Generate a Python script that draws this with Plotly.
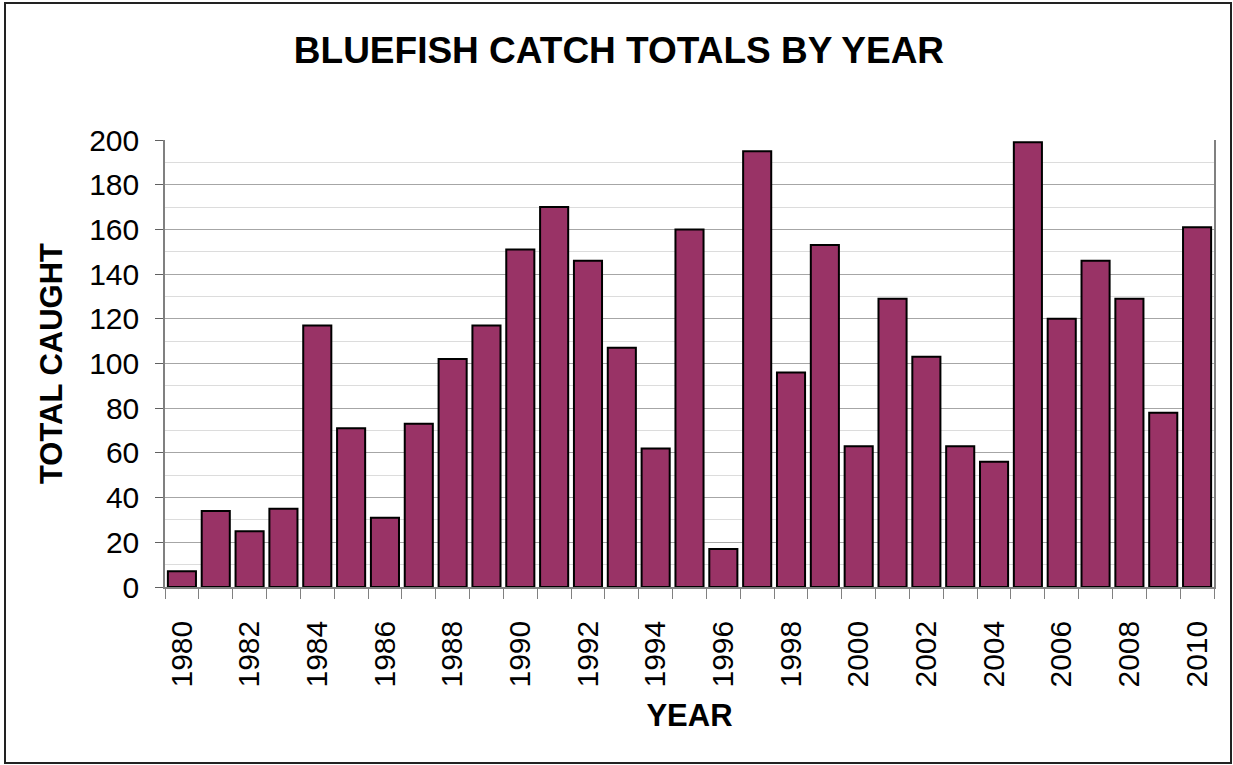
import plotly.graph_objects as go

# Bluefish catch totals, one bar per year
years = list(range(1980, 2011))
caught = [7, 34, 25, 35, 117, 71, 31, 73, 102, 117,
          151, 170, 146, 107, 62, 160, 17, 195, 96, 153,
          63, 129, 103, 63, 56, 199, 120, 146, 129, 78, 161]

label_years = list(range(1980, 2011, 2))
y_ticks = list(range(0, 201, 20))

BAR = "#993366"
FONT = "Liberation Sans, Arial, sans-serif"

W, H = 1233, 765
L, R, T, B = 165, 19, 140, 178


# pixel -> paper coords, for the outer frame
def px(x):
    return (x - L) / (W - L - R)


def py(y):
    return (H - B - y) / (H - T - B)


fig = go.Figure()
fig.add_trace(go.Bar(
    x=years, y=caught,
    marker=dict(color=BAR, line=dict(color="black", width=2)),
))

fig.update_layout(
    width=W, height=H,
    margin=dict(l=L, r=R, t=T, b=B),
    plot_bgcolor="white",
    paper_bgcolor="white",
    showlegend=False,
    bargap=0.17,
    font=dict(family=FONT, color="black"),
    title=dict(text="<b>BLUEFISH CATCH TOTALS BY YEAR</b>",
               x=0.502, xanchor="center", y=0.935, yanchor="middle",
               font=dict(size=37, family=FONT, color="black")),
)

fig.update_xaxes(
    range=[1979.5, 2010.5],
    tickmode="array", tickvals=label_years,
    ticktext=[str(y) for y in label_years],
    tickangle=-90, tickfont=dict(size=30),
    ticks="outside", ticklen=8, tickcolor="rgba(0,0,0,0)",
    ticklabelstandoff=12,
    minor=dict(tickmode="array", tickvals=[y - 0.5 for y in years] + [2010.5],
               ticks="outside", ticklen=10, tickcolor="#808080",
               showgrid=False),
    showgrid=False, zeroline=False,
    showline=True, linecolor="#808080", linewidth=1.5,
    title=dict(text="<b>YEAR</b>", font=dict(size=31), standoff=18),
)

fig.update_yaxes(
    range=[0, 200],
    tickmode="array", tickvals=y_ticks,
    tickfont=dict(size=30),
    ticks="outside", ticklen=8, tickcolor="#606060",
    ticklabelstandoff=10,
    showgrid=True, gridcolor="#a6a6a6", gridwidth=1,
    minor=dict(dtick=10, showgrid=True, gridcolor="#dcdcdc", ticks=""),
    zeroline=False,
    showline=True, mirror=True, linecolor="#808080", linewidth=1.5,
    title=dict(text="<b>TOTAL CAUGHT</b>", font=dict(size=31), standoff=17),
)

# outer chart frame
fig.add_shape(type="rect", xref="paper", yref="paper",
              x0=px(5), x1=px(1231), y0=py(763), y1=py(3),
              line=dict(color="#222222", width=2), layer="below")

# drop the browser's default page margin so the chart sits at 0,0
fig.write_html("out.html", config={"displayModeBar": False},
               post_script="document.body.style.margin='0';")
